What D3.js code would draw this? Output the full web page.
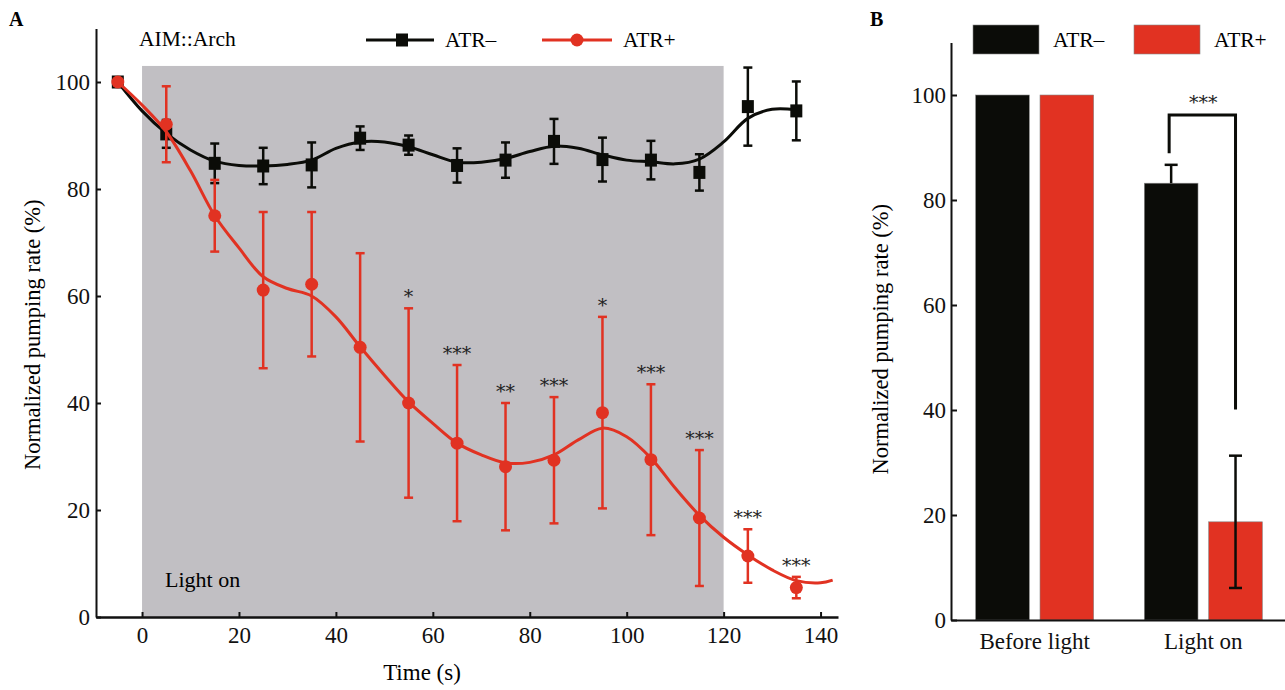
<!DOCTYPE html>
<html>
<head>
<meta charset="utf-8">
<script src="https://cdn.jsdelivr.net/npm/d3@7"></script>
<style>
  body { margin: 0; background: #fff; }
  svg { display: block; font-family: "Liberation Serif", "Times New Roman", serif; }
</style>
</head>
<body>
<div id="container"></div>
<script>
/* DATA */
// panel A : time course
const times = [-5, 5, 15, 25, 35, 45, 55, 65, 75, 85, 95, 105, 115, 125, 135];
const atrMinus = [100, 90.3, 84.8, 84.3, 84.5, 89.5, 88.2, 84.4, 85.4, 88.9, 85.5, 85.4, 83.1, 95.4, 94.6];
const atrMinusErr = [0, 2.6, 3.7, 3.4, 4.2, 2.2, 1.8, 3.2, 3.3, 4.2, 4.1, 3.6, 3.4, 7.3, 5.5];
const atrPlus = [100, 92.1, 75.0, 61.1, 62.2, 50.4, 40.0, 32.5, 28.1, 29.3, 38.2, 29.4, 18.5, 11.4, 5.5];
const atrPlusErr = [0, 7.1, 6.7, 14.6, 13.5, 17.6, 17.7, 14.6, 11.9, 11.8, 17.9, 14.1, 12.7, 5.0, 2.0];
const sigLabels = ["", "", "", "", "", "", "*", "***", "**", "***", "*", "***", "***", "***", "***"];

// fitted (smoothed) curves
const fitTimesMinus = [-5, 0, 5, 10, 15, 20, 25, 30, 35, 40, 45, 50, 55, 60, 65, 70, 75, 80, 85, 90, 95, 100, 105, 110, 115, 120, 125, 130, 135];
const fitMinus = [100, 94.6, 90.4, 87.3, 85.2, 84.4, 84.3, 84.6, 85.4, 87.6, 88.8, 88.8, 87.9, 86.4, 85.0, 85.0, 85.7, 87.0, 88.0, 87.6, 86.4, 85.4, 85.1, 84.7, 85.6, 88.8, 93.2, 94.9, 94.8];
const fitTimesPlus = [-5, 0, 5, 10, 15, 20, 25, 30, 35, 40, 45, 50, 55, 60, 65, 70, 75, 80, 85, 90, 95, 100, 105, 110, 115, 120, 125, 130, 135, 140, 142.5];
const fitPlus = [100, 95.7, 90.7, 83.4, 75.0, 69.0, 63.6, 61.4, 60.0, 56.1, 50.5, 45.2, 40.2, 36.2, 32.5, 30.3, 28.8, 28.9, 30.3, 33.1, 35.3, 33.7, 29.7, 24.1, 19.0, 14.9, 11.6, 8.8, 6.8, 6.4, 6.9];

const lightWindow = [0, 120];
const xTicksA = [0, 20, 40, 60, 80, 100, 120, 140];
const yTicks = [0, 20, 40, 60, 80, 100];

// panel B : summary bars
const conditions = ["Before light", "Light on"];
const groups = ["ATR\u2013", "ATR+"];
const barMinus = [100, 83.2];
const barMinusErr = [0, 3.5];
const barPlus = [100, 18.7];
const barPlusErr = [0, 12.6];

const BLACK = "#0b0c08", RED = "#e13222", GREY = "#c1bfc3";
const STAR_FONT = "DejaVu Serif, serif";

const svg = d3.select("#container")
  .append("svg")
  .attr("width", 1285)
  .attr("height", 690);

/* ---------- PANEL A ---------- */
const x = d3.scaleLinear().domain([-9.5, 143.6]).range([96, 838]);
const y = d3.scaleLinear().domain([0, 110]).range([617, 28.5]);

svg.append("text").attr("x", 9).attr("y", 26)
  .attr("font-weight", "bold").attr("font-size", 20).text("A");

// light-on shading
svg.append("rect")
  .attr("x", x(lightWindow[0]))
  .attr("y", y(103))
  .attr("width", x(lightWindow[1]) - x(lightWindow[0]))
  .attr("height", y(0) - y(103))
  .attr("fill", GREY);

svg.append("text").attr("x", 165).attr("y", 587)
  .attr("font-size", 22).text("Light on");

// axes
const xAxis = svg.append("g")
  .attr("transform", `translate(0,${y(0)})`)
  .call(d3.axisBottom(x).tickValues(xTicksA).tickSize(-5).tickSizeOuter(0).tickPadding(10));
const yAxis = svg.append("g")
  .attr("transform", `translate(${x.range()[0]},0)`)
  .call(d3.axisLeft(y).tickValues(yTicks).tickSize(-5).tickSizeOuter(0).tickPadding(6));

[xAxis, yAxis].forEach(a => {
  a.select(".domain").attr("stroke", "#111").attr("stroke-width", 2);
  a.selectAll(".tick line").attr("stroke", "#111").attr("stroke-width", 2);
  a.selectAll(".tick text").attr("font-size", 23).attr("fill", "#111")
    .attr("font-family", "Liberation Serif, serif");
});
xAxis.select(".domain").attr("stroke-width", 2.5);

svg.append("text")
  .attr("transform", `translate(40,${(y(0) + y(110)) / 2 + 12}) rotate(-90)`)
  .attr("text-anchor", "middle").attr("font-size", 22.5)
  .text("Normalized pumping rate (%)");
svg.append("text")
  .attr("x", 422).attr("y", 680)
  .attr("text-anchor", "middle").attr("font-size", 23)
  .text("Time (s)");

// series drawing
function drawSeries(means, errs, fitT, fitV, color, marker) {
  const g = svg.append("g");
  const pts = times.map((t, i) => ({ t, m: means[i], e: errs[i] }));

  const eb = g.selectAll("g.err").data(pts.filter(d => d.e > 0)).join("g")
    .attr("stroke", color).attr("stroke-width", 2.5);
  eb.append("line")
    .attr("x1", d => x(d.t)).attr("x2", d => x(d.t))
    .attr("y1", d => y(d.m + d.e)).attr("y2", d => y(d.m - d.e));
  eb.append("line")
    .attr("x1", d => x(d.t) - 4.5).attr("x2", d => x(d.t) + 4.5)
    .attr("y1", d => y(d.m + d.e)).attr("y2", d => y(d.m + d.e));
  eb.append("line")
    .attr("x1", d => x(d.t) - 4.5).attr("x2", d => x(d.t) + 4.5)
    .attr("y1", d => y(d.m - d.e)).attr("y2", d => y(d.m - d.e));

  const line = d3.line()
    .x((d, i) => x(fitT[i]))
    .y(d => y(d))
    .curve(d3.curveCatmullRom.alpha(0.5));
  g.append("path")
    .attr("d", line(fitV))
    .attr("fill", "none")
    .attr("stroke", color)
    .attr("stroke-width", 3);

  if (marker === "square") {
    g.selectAll("rect.pt").data(pts).join("rect")
      .attr("class", "pt")
      .attr("x", d => x(d.t) - 6).attr("y", d => y(d.m) - 6.5)
      .attr("width", 12).attr("height", 13)
      .attr("fill", color);
  } else {
    g.selectAll("circle.pt").data(pts).join("circle")
      .attr("class", "pt")
      .attr("cx", d => x(d.t)).attr("cy", d => y(d.m))
      .attr("r", 6.5).attr("fill", color);
  }
  return pts;
}

drawSeries(atrMinus, atrMinusErr, fitTimesMinus, fitMinus, BLACK, "square");
const redPts = drawSeries(atrPlus, atrPlusErr, fitTimesPlus, fitPlus, RED, "circle");

// significance stars
svg.append("g").selectAll("text")
  .data(redPts.map((d, i) => ({ ...d, s: sigLabels[i] })).filter(d => d.s))
  .join("text")
  .attr("x", d => x(d.t))
  .attr("y", d => y(d.m + d.e) - 5)
  .attr("text-anchor", "middle")
  .attr("font-family", STAR_FONT)
  .attr("font-size", 19)
  .attr("fill", "#222")
  .text(d => d.s);

// legend A
svg.append("text").attr("x", 139).attr("y", 46).attr("font-size", 21.5).text("AIM::Arch");
const legA = svg.append("g");
legA.append("line").attr("x1", 366).attr("x2", 434).attr("y1", 40).attr("y2", 40)
  .attr("stroke", BLACK).attr("stroke-width", 3);
legA.append("rect").attr("x", 396).attr("y", 33.5).attr("width", 12).attr("height", 13).attr("fill", BLACK);
legA.append("text").attr("x", 445).attr("y", 47).attr("font-size", 21.5).text(groups[0]);
legA.append("line").attr("x1", 542).attr("x2", 612).attr("y1", 40).attr("y2", 40)
  .attr("stroke", RED).attr("stroke-width", 3);
legA.append("circle").attr("cx", 577).attr("cy", 40).attr("r", 6.5).attr("fill", RED);
legA.append("text").attr("x", 623).attr("y", 47).attr("font-size", 21.5).text(groups[1]);

/* ---------- PANEL B ---------- */
const yB = d3.scaleLinear().domain([0, 110]).range([620, 42.5]);
const x0 = d3.scaleBand().domain(conditions).range([951, 1287])
  .paddingInner(0.3).paddingOuter(0.146);
const x1 = d3.scaleBand().domain(groups).range([0, x0.bandwidth()]).paddingInner(0.166);

svg.append("text").attr("x", 870).attr("y", 26)
  .attr("font-weight", "bold").attr("font-size", 20).text("B");

const barData = [];
conditions.forEach((c, i) => {
  barData.push({ c, g: groups[0], v: barMinus[i], e: barMinusErr[i], color: BLACK, dir: "up" });
  barData.push({ c, g: groups[1], v: barPlus[i], e: barPlusErr[i], color: RED, dir: "both" });
});

svg.append("g").selectAll("rect")
  .data(barData).join("rect")
  .attr("x", d => x0(d.c) + x1(d.g))
  .attr("y", d => yB(d.v))
  .attr("width", x1.bandwidth())
  .attr("height", d => yB(0) - yB(d.v))
  .attr("fill", d => d.color)
  .attr("stroke", "#888").attr("stroke-width", 0.6);

const ebB = svg.append("g").selectAll("g")
  .data(barData.filter(d => d.e > 0)).join("g")
  .attr("stroke", BLACK).attr("stroke-width", 2.5);
const cxB = d => x0(d.c) + x1(d.g) + x1.bandwidth() / 2;
ebB.append("line")
  .attr("x1", cxB).attr("x2", cxB)
  .attr("y1", d => yB(d.v + d.e))
  .attr("y2", d => d.dir === "up" ? yB(d.v) : yB(d.v - d.e));
ebB.append("line")
  .attr("x1", d => cxB(d) - 6.5).attr("x2", d => cxB(d) + 6.5)
  .attr("y1", d => yB(d.v + d.e)).attr("y2", d => yB(d.v + d.e));
ebB.filter(d => d.dir === "both").append("line")
  .attr("x1", d => cxB(d) - 6.5).attr("x2", d => cxB(d) + 6.5)
  .attr("y1", d => yB(d.v - d.e)).attr("y2", d => yB(d.v - d.e));

// significance bracket
const bm = barData[2], bp = barData[3];
svg.append("path")
  .attr("d", `M${cxB(bm) - 2},${yB(88.9)} V${yB(96.2)} H${cxB(bp)} V${yB(40.1)}`)
  .attr("fill", "none").attr("stroke", BLACK).attr("stroke-width", 3);
svg.append("text")
  .attr("x", (cxB(bm) + cxB(bp)) / 2).attr("y", yB(96.2) - 6)
  .attr("text-anchor", "middle").attr("font-size", 19)
  .attr("font-family", STAR_FONT).attr("fill", "#222")
  .text("***");

const yAxisB = svg.append("g")
  .attr("transform", "translate(951,0)")
  .call(d3.axisLeft(yB).tickValues(yTicks).tickSize(-6).tickSizeOuter(0).tickPadding(5));
const xAxisB = svg.append("g")
  .attr("transform", `translate(0,${yB(0)})`)
  .call(d3.axisBottom(x0).tickSize(0).tickPadding(13));
[yAxisB, xAxisB].forEach(a => {
  a.select(".domain").attr("stroke", "#111").attr("stroke-width", 2);
  a.selectAll(".tick line").attr("stroke", "#111").attr("stroke-width", 2);
  a.selectAll(".tick text").attr("font-size", 23).attr("fill", "#111")
    .attr("font-family", "Liberation Serif, serif");
});

svg.append("text")
  .attr("transform", `translate(888,${(yB(0) + yB(110)) / 2 + 8}) rotate(-90)`)
  .attr("text-anchor", "middle").attr("font-size", 22.5)
  .text("Normalized pumping rate (%)");

// legend B
const legB = svg.append("g");
groups.forEach((gname, i) => {
  const lx = [973, 1134][i];
  legB.append("rect").attr("x", lx).attr("y", 25).attr("width", 66).attr("height", 29)
    .attr("fill", i === 0 ? BLACK : RED).attr("stroke", "#888").attr("stroke-width", 0.6);
  legB.append("text").attr("x", lx + 80).attr("y", 47).attr("font-size", 21.5).text(gname);
});
</script>
</body>
</html>
